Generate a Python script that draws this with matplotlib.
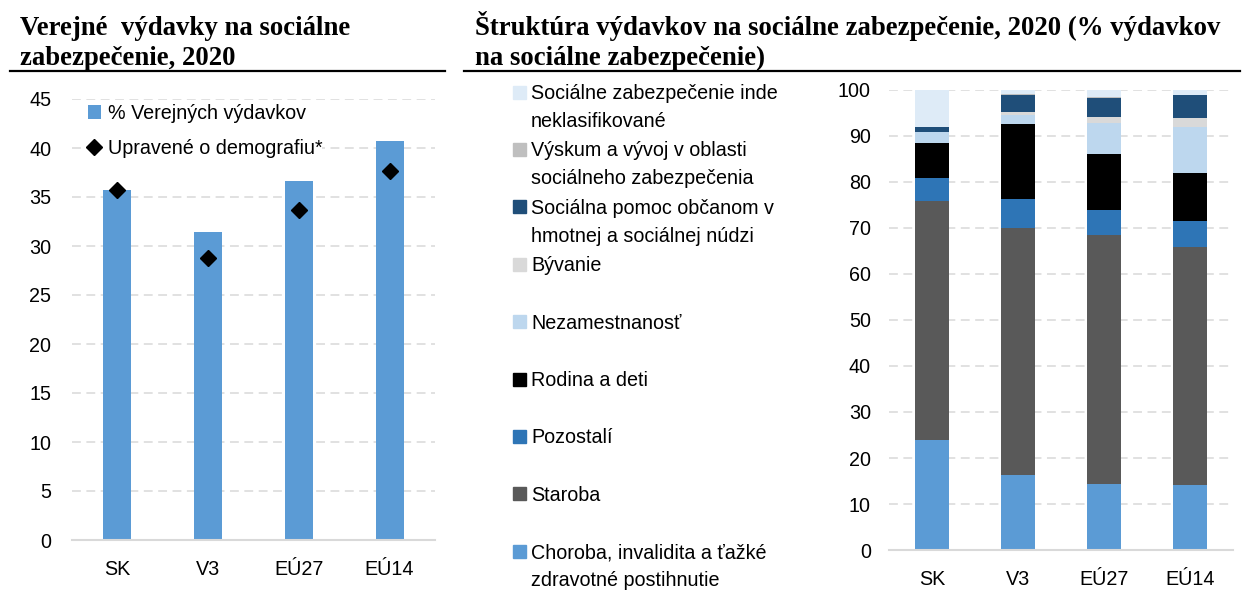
import matplotlib
matplotlib.use('Agg')
import matplotlib.pyplot as plt
from matplotlib.patches import Rectangle
from matplotlib.lines import Line2D

plt.rcParams['font.family'] = ['Liberation Sans', 'DejaVu Sans']

# data - left chart
countries = ['SK', 'V3', 'EÚ27', 'EÚ14']
verejne = [35.7, 31.4, 36.6, 40.7]
upravene = [35.7, 28.8, 33.7, 37.7]

# data - right chart (stack order from bottom)
choroba = [24.0, 16.2, 14.3, 14.1]
staroba = [51.8, 53.8, 54.2, 51.7]
pozostali = [5.0, 6.4, 5.5, 5.8]
rodina = [7.6, 16.2, 12.0, 10.4]
nezam = [2.4, 1.9, 6.9, 9.9]
byvanie = [0.1, 0.8, 1.3, 2.1]
soc_pomoc = [1.1, 3.7, 4.1, 4.9]
vyskum = [0.0, 0.1, 0.2, 0.1]
inde = [8.0, 0.9, 1.5, 1.0]

series = [
    ('Choroba, invalidita a ťažké\nzdravotné postihnutie', choroba, '#5B9BD5'),
    ('Staroba', staroba, '#595959'),
    ('Pozostalí', pozostali, '#2E75B6'),
    ('Rodina a deti', rodina, '#000000'),
    ('Nezamestnanosť', nezam, '#BDD7EE'),
    ('Bývanie', byvanie, '#D9D9D9'),
    ('Sociálna pomoc občanom v\nhmotnej a sociálnej núdzi', soc_pomoc, '#1F4E79'),
    ('Výskum a vývoj v oblasti\nsociálneho zabezpečenia', vyskum, '#BFBFBF'),
    ('Sociálne zabezpečenie inde\nneklasifikované', inde, '#DEEBF7'),
]

W, H = 1242, 590
fig = plt.figure(figsize=(W / 100, H / 100), dpi=100)
fs = 14.2
grid_kw = dict(color='#D9D9D9', linestyle=(0, (5.8, 3.6)), linewidth=1.1)


def px_box(x0, x1, ytop, ybot):
    return [x0 / W, 1 - ybot / H, (x1 - x0) / W, (ybot - ytop) / H]


def style_axes(ax):
    for s in ['top', 'right', 'left']:
        ax.spines[s].set_visible(False)
    ax.spines['bottom'].set_color('#D9D9D9')
    ax.spines['bottom'].set_linewidth(1.5)
    ax.yaxis.grid(True, **grid_kw)
    ax.set_axisbelow(True)
    ax.tick_params(length=0, labelsize=fs)
    ax.tick_params(axis='y', pad=15)
    ax.tick_params(axis='x', pad=14.5)


# left chart
ax1 = fig.add_axes(px_box(72, 435, 99, 540))
x = range(len(countries))
bars = ax1.bar(x, verejne, width=0.31, color='#5B9BD5', label='% Verejných výdavkov')
pts, = ax1.plot(x, upravene, 'D', color='black', markersize=8, linestyle='none',
                label='Upravené o demografiu*')
ax1.set_xlim(-0.5, 3.5)
ax1.set_ylim(0, 45)
ax1.set_yticks(range(0, 46, 5))
ax1.set_xticks(list(x))
ax1.set_xticklabels(countries)
style_axes(ax1)
leg = ax1.legend(handles=[bars, pts], loc='upper left',
                 bbox_to_anchor=((88 - 72) / 363, (540 - 104) / 441),
                 fontsize=fs, handlelength=0.65, handleheight=0.65, handletextpad=0.35,
                 labelspacing=0.8, borderpad=0, borderaxespad=0,
                 frameon=True, framealpha=1, edgecolor='none', facecolor='white')
leg.get_frame().set_boxstyle('square', pad=0)

# right chart
ax2 = fig.add_axes(px_box(889, 1233, 90, 550))
bottom = [0.0] * len(countries)
for label, vals, col in series:
    ax2.bar(x, vals, width=0.4, bottom=bottom, color=col, label=label)
    bottom = [b + v for b, v in zip(bottom, vals)]
ax2.set_xlim(-0.5, 3.5)
ax2.set_ylim(0, 100)
ax2.set_yticks(range(0, 101, 10))
ax2.set_xticks(list(x))
ax2.set_xticklabels(countries)
style_axes(ax2)
ax2.tick_params(axis='y', pad=13)

# manual legend for right chart (top entry = last series)
for i, (label, vals, col) in enumerate(reversed(series)):
    yc = 92 + i * 57.4
    fig.add_artist(Rectangle((513 / W, 1 - (yc + 6.5) / H), 13 / W, 13 / H,
                             transform=fig.transFigure, color=col))
    for j, line in enumerate(label.split('\n')):
        fig.text(531 / W, 1 - (yc + 7 + j * 28) / H, line, fontsize=fs,
                 va='baseline', ha='left')

# titles
tkw = dict(fontsize=19.3, fontweight='bold', family=['Liberation Serif', 'DejaVu Serif'],
           va='baseline', ha='left')
fig.text(20 / W, 1 - 35 / H, 'Verejné  výdavky na sociálne', **tkw)
fig.text(20 / W, 1 - 65 / H, 'zabezpečenie, 2020', **tkw)
fig.text(475 / W, 1 - 35 / H, 'Štruktúra výdavkov na sociálne zabezpečenie, 2020 (% výdavkov', **tkw)
fig.text(475 / W, 1 - 65 / H, 'na sociálne zabezpečenie)', **tkw)
fig.add_artist(Line2D([10 / W, 445 / W], [1 - 71 / H, 1 - 71 / H], color='black', lw=1.6,
                      transform=fig.transFigure))
fig.add_artist(Line2D([464 / W, 1240 / W], [1 - 71 / H, 1 - 71 / H], color='black', lw=1.6,
                      transform=fig.transFigure))

fig.savefig('out.png', dpi=100)
